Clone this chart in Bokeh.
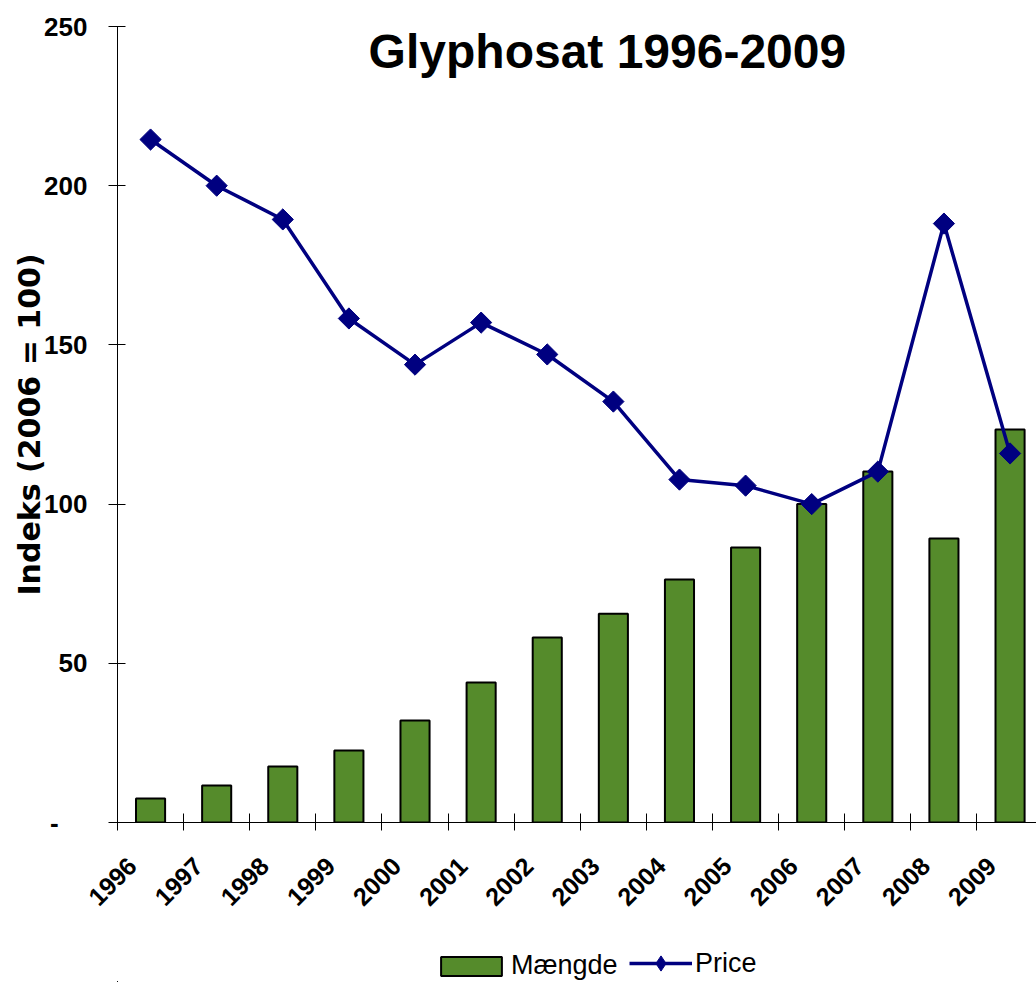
import numpy as np
from bokeh.plotting import figure
from bokeh.layouts import column
from bokeh.models import (Range1d, FixedTicker, Legend, LegendItem, Label, ColumnDataSource)
from bokeh.embed import file_html
from bokeh.resources import INLINE

years = ["1996", "1997", "1998", "1999", "2000", "2001", "2002",
         "2003", "2004", "2005", "2006", "2007", "2008", "2009"]
maengde = [7.5, 11.6, 17.6, 22.6, 32.0, 44.0, 58.1, 65.6, 76.3, 86.4, 100.0, 110.2, 89.2, 123.4]
price = [214.5, 200.0, 189.4, 158.3, 143.8, 157.0, 147.0, 132.2, 107.7, 105.8, 100.0, 110.2, 188.1, 115.9]
y_ticks = [0, 50, 100, 150, 200, 250]
y_tick_labels = ["-\u00a0\u00a0\u00a0\u00a0", "50", "100", "150", "200", "250"]

GREEN = "#558B2B"
NAVY = "#000080"
FONT = "Liberation Sans"

xs = np.arange(len(years)) + 0.5
src = ColumnDataSource(dict(x=xs, q=maengde, p=price))


def draw_series(fig, marker="square", angle=np.pi / 4):
    b = fig.vbar(x="x", top="q", width=0.44, source=src, fill_color=GREEN,
                 line_color="black", line_width=2)
    l = fig.line(x="x", y="p", source=src, line_color=NAVY, line_width=3.5)
    m = fig.scatter(x="x", y="p", source=src, marker=marker, angle=angle,
                    size=15, fill_color=NAVY, line_color=NAVY)
    return b, l, m


p = figure(width=1036, height=944, output_backend="svg", toolbar_location=None,
           x_range=Range1d(0, 13.9), y_range=Range1d(0, 250),
           min_border_left=117, min_border_top=26, min_border_right=0,
           min_border_bottom=122)
p.outline_line_color = None
p.xgrid.visible = False
p.ygrid.visible = False
p.background_fill_color = "white"

bars, line, marks = draw_series(p)

# x axis: boundary tick marks (minor), labels near category centres
label_pos = [float(x - 0.28) for x in xs]
xa = p.xaxis[0]
xa.ticker = FixedTicker(ticks=label_pos, minor_ticks=list(np.arange(len(years) + 1)))
xa.major_label_overrides = {x: y for x, y in zip(label_pos, years)}
xa.major_tick_line_color = None
xa.minor_tick_in = 9
xa.minor_tick_out = 8
xa.minor_tick_line_color = "black"
xa.axis_line_color = "black"
xa.major_label_orientation = np.pi / 4
xa.major_label_text_font = FONT
xa.major_label_text_font_style = "bold"
xa.major_label_text_font_size = "25px"
xa.major_label_text_color = "black"
xa.major_label_standoff = 31

# y axis
ya = p.yaxis[0]
ya.ticker = FixedTicker(ticks=y_ticks)
ya.major_label_overrides = {t: l for t, l in zip(y_ticks, y_tick_labels)}
ya.minor_tick_line_color = None
ya.major_tick_in = 8
ya.major_tick_out = 9
ya.major_tick_line_color = "black"
ya.axis_line_color = "black"
ya.major_label_text_font = FONT
ya.major_label_text_font_style = "bold"
ya.major_label_text_font_size = "26px"
ya.major_label_text_color = "black"
ya.major_label_standoff = 21
ya.axis_label = "Indeks (2006 = 100)"
ya.axis_label_text_font = "DejaVu Sans"
ya.axis_label_text_font_style = "bold"
ya.axis_label_text_font_size = "30px"
ya.axis_label_text_color = "black"
ya.axis_label_standoff = -6

title = Label(x=7.41, y=242, text="Glyphosat 1996-2009", text_align="center",
              text_baseline="middle", text_font=FONT, text_font_style="bold",
              text_font_size="48px", text_color="black")
p.add_layout(title)

# legend strip below the chart (same series, drawn outside its visible ranges)
lf = figure(width=1036, height=38, output_backend="svg", toolbar_location=None,
            x_range=Range1d(1000, 1001), y_range=Range1d(1000, 1001),
            x_axis_type=None, y_axis_type=None,
            min_border_left=0, min_border_right=0, min_border_top=0, min_border_bottom=0)
lf.outline_line_color = None
lf.xgrid.visible = False
lf.ygrid.visible = False
lb, ll, lm = draw_series(lf, marker="diamond", angle=0)

common = dict(orientation="horizontal", label_text_font=FONT,
              label_text_font_size="27px", label_text_color="black",
              padding=0, margin=0, border_line_color=None,
              background_fill_alpha=0)
leg1 = Legend(items=[LegendItem(label="Mængde", renderers=[lb])],
              location=(316, 1), glyph_width=76, glyph_height=24,
              label_standoff=2, **common)
leg2 = Legend(items=[LegendItem(label="Price", renderers=[ll, lm])],
              location=(512, 0), glyph_width=63, glyph_height=38,
              label_standoff=3, **common)
lf.add_layout(leg1)
lf.add_layout(leg2)

layout = column(p, lf, spacing=0)
open("out.html", "w").write(file_html(layout, INLINE))
